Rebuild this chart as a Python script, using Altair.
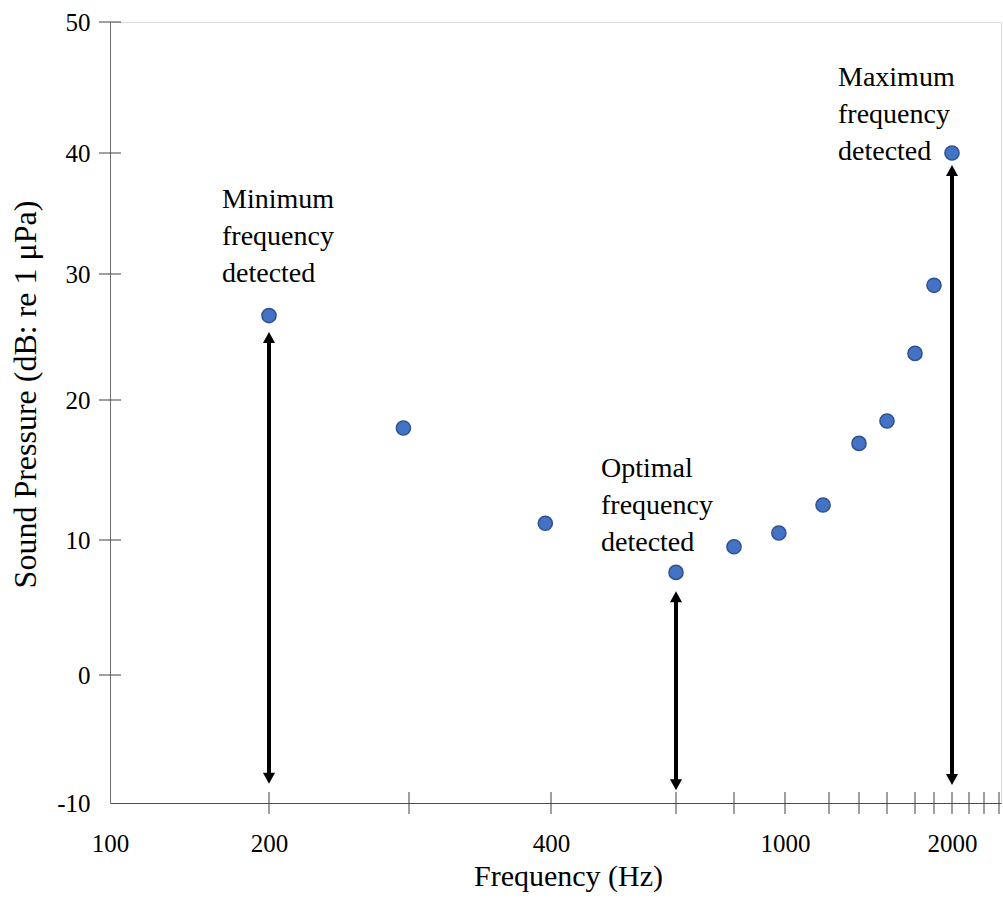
import altair as alt
import pandas as pd

# ---- data ----
freq = [200, 296, 396, 600, 800, 976, 1173, 1400, 1600, 1800, 1900, 2000]
level = [26.7, 18.0, 11.2, 7.6, 9.5, 10.5, 12.5, 16.9, 18.5, 23.7, 29.1, 40.0]

x_tick_freqs = [200, 300, 400, 600, 800, 1000, 1200, 1400, 1600, 1800, 1900, 2000, 2100, 2200, 2300]
x_label_freqs = [100, 200, 400, 1000, 2000]
y_tick_levels = [0, 10, 20, 30, 40, 50]
y_label_levels = [-10, 0, 10, 20, 30, 40, 50]

arrow_freq = [200, 600, 2000]
arrow_top = [25.4, 6.2, 39.0]
arrow_bottom = [-8.5, -9.0, -8.6]

annotations = ["Minimum\nfrequency\ndetected",
               "Optimal\nfrequency\ndetected",
               "Maximum\nfrequency\ndetected"]
annotation_freq = [200, 600, 2000]
annotation_level = [26.7, 7.6, 40.0]

# ---- tables ----
points_df = pd.DataFrame({"freq": freq, "level": level})
xticks_df = pd.DataFrame({"freq": x_tick_freqs})
yticks_df = pd.DataFrame({"level": y_tick_levels})
arrows_df = pd.DataFrame({"freq": arrow_freq, "level": arrow_top, "level2": arrow_bottom})
arrow_up_df = pd.DataFrame({"freq": arrow_freq, "level": arrow_top})
arrow_down_df = pd.DataFrame({"freq": arrow_freq, "level": arrow_bottom})

W, H = 891, 781
FONT = "Liberation Serif"

# the hand-drawn axis is not uniformly spaced: piecewise scales follow its ticks
xs = alt.Scale(domain=[100, 200, 300, 400, 600, 800, 1000, 1200, 1400, 1600, 1800, 1900,
                       2000, 2100, 2200, 2300, 2310],
               range=[0, 159, 299, 441, 566, 624, 675, 719, 749, 777, 805, 824,
                      842, 859, 874, 889, 891],
               nice=False, zero=False)
ys = alt.Scale(domain=[-10, 0, 10, 20, 30, 40, 50],
               range=[781, 653, 518, 378, 252, 131, 0],
               nice=False, zero=False)

x_axis = alt.Axis(values=x_label_freqs, ticks=False, tickSize=0, grid=False,
                  domainColor="#4d4d4d", domainWidth=1,
                  labelExpr="'' + datum.value",
                  labelFont=FONT, labelFontSize=25, labelColor="black",
                  labelPadding=28, labelFlush=False, labelOverlap=False,
                  title="Frequency (Hz)", titleFont=FONT, titleFontSize=30,
                  titleFontWeight="normal", titleColor="black",
                  titleX=458, titleY=82, titleBaseline="alphabetic", titleAlign="center")
y_axis = alt.Axis(values=y_label_levels, ticks=False, tickSize=0, grid=False,
                  domainColor="#6e6e6e", domainWidth=1,
                  labelExpr="'' + datum.value",
                  labelFont=FONT, labelFontSize=25, labelColor="black",
                  labelPadding=20, labelFlush=False, labelOverlap=False,
                  title="Sound Pressure (dB: re 1 μPa)", titleFont=FONT, titleFontSize=32,
                  titleFontWeight="normal", titleColor="black",
                  titleX=-75, titleY=372, titleAngle=270,
                  titleBaseline="alphabetic", titleAlign="center")

X = alt.X("freq:Q", scale=xs, axis=x_axis)
Y = alt.Y("level:Q", scale=ys, axis=y_axis)

points = alt.Chart(points_df).mark_circle(
    size=200, color="#4472C4", stroke="#2F528F", strokeWidth=1.5, opacity=1
).encode(x=X, y=Y)

xticks = alt.Chart(xticks_df).mark_tick(
    orient="vertical", size=22, thickness=1, color="#404040", opacity=1
).encode(x=X, y=alt.value(H))

yticks = alt.Chart(yticks_df).mark_tick(
    orient="horizontal", size=22, thickness=1, color="#404040", opacity=1
).encode(y=Y, x=alt.value(0))

shafts = alt.Chart(arrows_df).mark_rule(
    color="black", strokeWidth=4, yOffset=8, y2Offset=-8
).encode(x=X, y=Y, y2="level2:Q")

heads_up = alt.Chart(arrow_up_df).mark_point(
    shape="M0,0L-0.55,1L0.55,1Z", size=484, filled=True, color="black", opacity=1
).encode(x=X, y=Y)

heads_down = alt.Chart(arrow_down_df).mark_point(
    shape="M0,0L-0.55,-1L0.55,-1Z", size=484, filled=True, color="black", opacity=1
).encode(x=X, y=Y)

offsets = [(-47, -108), (-75, -95), (-114, -67)]
texts = []
for lab, f, lv, (dx, dy) in zip(annotations, annotation_freq, annotation_level, offsets):
    df = pd.DataFrame({"freq": [f], "level": [lv], "label": [lab]})
    texts.append(
        alt.Chart(df).mark_text(
            font=FONT, fontSize=28, color="black", align="left",
            baseline="alphabetic", lineBreak="\n", lineHeight=37, dx=dx, dy=dy
        ).encode(x=X, y=Y, text="label:N")
    )

chart = alt.layer(xticks, yticks, shafts, heads_up, heads_down, points, *texts).properties(
    width=W, height=H,
    autosize=alt.AutoSizeParams(type="none"),
    padding={"left": 110, "top": 22, "right": 2, "bottom": 96},
).configure_view(stroke=None).configure(background="white")

chart.save("out.html", embed_options={"renderer": "svg", "actions": False})
